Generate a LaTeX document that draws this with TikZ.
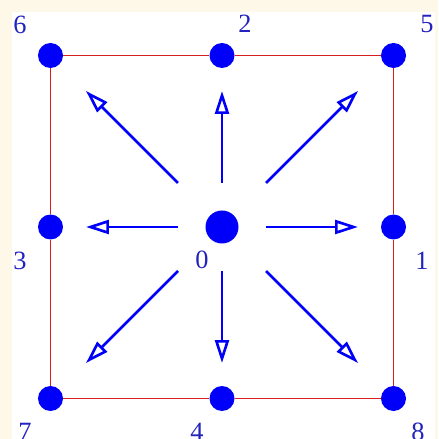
\documentclass[tikz,border=0pt]{standalone}
\usepackage{fontspec}
\setmainfont{Liberation Serif}
\usetikzlibrary{arrows.meta}

\definecolor{pblue}{RGB}{0, 0, 250}
\definecolor{lblue}{RGB}{35, 35, 190}
\definecolor{pred}{RGB}{215, 30, 30}
\definecolor{cream}{RGB}{253, 248, 231}

\tikzset{
    dot/.style    = {circle, fill = pblue, inner sep = 0pt, minimum size = 0.50cm},
    bigdot/.style = {dot, minimum size = 0.66cm},
    edge/.style   = {draw = pred, line width = 0.9pt},
    vec/.style    = {draw = pblue, line width = 1.5pt,
                     -{Triangle[open, length = 0.46cm, width = 0.28cm]}},
    num/.style    = {text = lblue, font = \fontsize{15}{17}\selectfont, inner sep = 0pt}
}

\begin{document}
\begin{tikzpicture}
    \useasboundingbox[fill = cream] (-4.44,-4.24) rectangle (4.32,4.54);
    \fill[white] (-4.2,-4.24) rectangle (4.26,4.30);

    % lattice points
    \node[bigdot] (n0) at (0,0) {};
    \node[dot] (n1) at ( 3.43, 0)    {};
    \node[dot] (n2) at ( 0,    3.43) {};
    \node[dot] (n3) at (-3.43, 0)    {};
    \node[dot] (n4) at ( 0,   -3.43) {};
    \node[dot] (n5) at ( 3.43, 3.43) {};
    \node[dot] (n6) at (-3.43, 3.43) {};
    \node[dot] (n7) at (-3.43,-3.43) {};
    \node[dot] (n8) at ( 3.43,-3.43) {};

    % boundary
    \draw[edge] (n6) -- (n2) -- (n5) -- (n1) -- (n8) -- (n4) -- (n7) -- (n3) -- (n6);

    % velocities
    \foreach \i/\dx/\dy in {1/1/0, 2/0/1, 3/-1/0, 4/0/-1, 5/1/1, 6/-1/1, 7/-1/-1, 8/1/-1} {
        \coordinate (a\i) at (0.88*\dx, 0.88*\dy);
        \coordinate (b\i) at (2.72*\dx, 2.72*\dy);
        \draw[vec] (a\i) -- (b\i);
    }

    % labels
    \node[num] (t0) at (-0.40,-0.66) {0};
    \node[num] (t1) at ( 4.00,-0.68) {1};
    \node[num] (t2) at ( 0.46, 4.06) {2};
    \node[num] (t3) at (-4.04,-0.68) {3};
    \node[num] (t4) at (-0.50,-4.10) {4};
    \node[num] (t5) at ( 4.10, 4.06) {5};
    \node[num] (t6) at (-4.04, 4.04) {6};
    \node[num] (t7) at (-3.94,-4.10) {7};
    \node[num] (t8) at ( 3.92,-4.10) {8};
\end{tikzpicture}
\end{document}
